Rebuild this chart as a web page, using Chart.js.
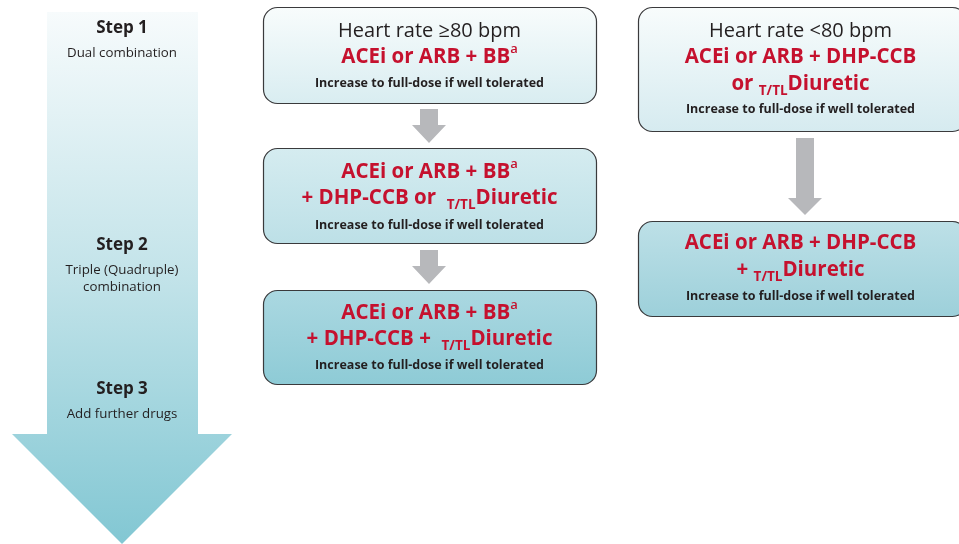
<!DOCTYPE html>
<html>
<head>
<meta charset="utf-8">
<script src="https://cdn.jsdelivr.net/npm/chart.js@4.4.1/dist/chart.umd.min.js"></script>
<style>
  body { margin: 0; background: #fff; }
  #wrap { width: 959px; height: 544px; }
</style>
</head>
<body>
<div id="wrap"><canvas id="flow" width="959" height="544"></canvas></div>
<script>
// step labels down the big arrow
const stepTitles = ['Step 1', 'Step 2', 'Step 3'];
const stepNotes = [['Dual combination'], ['Triple (Quadruple)', 'combination'], ['Add further drugs']];

// box texts: segments per line, sup / sub marks
const note = 'Increase to full-dose if well tolerated';
const leftBoxes = [
  [[{t: 'Heart rate \u226580 bpm', k: 'head'}],
   [{t: 'ACEi or ARB + BB', k: 'red'}, {t: 'a', k: 'sup'}],
   [{t: note, k: 'note'}]],
  [[{t: 'ACEi or ARB + BB', k: 'red'}, {t: 'a', k: 'sup'}],
   [{t: '+ DHP-CCB or  ', k: 'red'}, {t: 'T/TL', k: 'sub'}, {t: 'Diuretic', k: 'red'}],
   [{t: note, k: 'note'}]],
  [[{t: 'ACEi or ARB + BB', k: 'red'}, {t: 'a', k: 'sup'}],
   [{t: '+ DHP-CCB +  ', k: 'red'}, {t: 'T/TL', k: 'sub'}, {t: 'Diuretic', k: 'red'}],
   [{t: note, k: 'note'}]]
];
const rightBoxes = [
  [[{t: 'Heart rate <80 bpm', k: 'head'}],
   [{t: 'ACEi or ARB + DHP-CCB', k: 'red'}],
   [{t: 'or ', k: 'red'}, {t: 'T/TL', k: 'sub'}, {t: 'Diuretic', k: 'red'}],
   [{t: note, k: 'note'}]],
  [[{t: 'ACEi or ARB + DHP-CCB', k: 'red'}],
   [{t: '+ ', k: 'red'}, {t: 'T/TL', k: 'sub'}, {t: 'Diuretic', k: 'red'}],
   [{t: note, k: 'note'}]]
];

// layout (in axis units, y grows downward)
const layout = {
  bigArrow: {x0: 47, x1: 198, top: 12, headY: 434, hx0: 12, hx1: 232, tip: 544, cx: 122},
  stepY: [28, 245, 389],
  leftBoxes: [
    {x0: 263, x1: 596, y0: 7, y1: 103, c0: '#f8fcfc', c1: '#d9edf1', lines: [31, 57, 83]},
    {x0: 263, x1: 596, y0: 148, y1: 243, c0: '#d5ecf0', c1: '#bde0e7', lines: [172, 198, 225]},
    {x0: 263, x1: 596, y0: 290, y1: 384, c0: '#abd8e1', c1: '#8ecbd6', lines: [313, 339, 365]}
  ],
  rightBoxes: [
    {x0: 638, x1: 966, y0: 7, y1: 131, c0: '#f8fcfc', c1: '#d6ebf0', lines: [31, 57, 84, 109]},
    {x0: 638, x1: 966, y0: 221, y1: 316, c0: '#bde0e7', c1: '#9dd0da', lines: [243, 270, 296]}
  ],
  grayArrows: [
    {cx: 429, top: 109, headY: 125, tip: 143, sw: 9, hw: 17},
    {cx: 429, top: 250, headY: 266, tip: 284, sw: 9, hw: 17},
    {cx: 805, top: 138, headY: 198, tip: 215, sw: 9, hw: 17}
  ]
};

const FONT = '"Open Sans", "Noto Sans", sans-serif';
const styles = {
  head: {font: '400 20px ' + FONT, color: '#231f20', dy: 0},
  red: {font: '700 20.5px ' + FONT, color: '#c5112e', dy: 0},
  sup: {font: '600 13px ' + FONT, color: '#c5112e', dy: -8},
  sub: {font: '700 13.5px ' + FONT, color: '#c5112e', dy: 7},
  note: {font: '700 12.5px ' + FONT, color: '#231f20', dy: 0}
};

function drawLine(ctx, segs, cx, y) {
  let w = 0;
  segs.forEach(s => { ctx.font = styles[s.k].font; w += ctx.measureText(s.t).width; });
  let x = cx - w / 2;
  segs.forEach(s => {
    const st = styles[s.k];
    ctx.font = st.font;
    ctx.fillStyle = st.color;
    ctx.fillText(s.t, x, y + st.dy);
    x += ctx.measureText(s.t).width;
  });
}

const flowPlugin = {
  id: 'flow',
  afterDraw(chart) {
    const ctx = chart.ctx;
    const X = v => chart.scales.x.getPixelForValue(v);
    const Y = v => chart.scales.y.getPixelForValue(v);
    ctx.save();
    ctx.textBaseline = 'middle';
    ctx.textAlign = 'left';

    // big step arrow
    const a = layout.bigArrow;
    const g = ctx.createLinearGradient(0, Y(a.top), 0, Y(a.tip));
    g.addColorStop(0, '#f7fbfc');
    g.addColorStop(0.5, '#c2e3e9');
    g.addColorStop(1, '#82c7d3');
    ctx.fillStyle = g;
    ctx.beginPath();
    ctx.moveTo(X(a.x0), Y(a.top));
    ctx.lineTo(X(a.x1), Y(a.top));
    ctx.lineTo(X(a.x1), Y(a.headY));
    ctx.lineTo(X(a.hx1), Y(a.headY));
    ctx.lineTo(X(a.cx), Y(a.tip));
    ctx.lineTo(X(a.hx0), Y(a.headY));
    ctx.lineTo(X(a.x0), Y(a.headY));
    ctx.closePath();
    ctx.fill();

    stepTitles.forEach((t, i) => {
      const y0 = layout.stepY[i];
      ctx.font = '700 17px ' + FONT;
      ctx.fillStyle = '#231f20';
      ctx.textAlign = 'center';
      ctx.fillText(t, X(a.cx), Y(y0));
      ctx.font = '400 13.3px ' + FONT;
      stepNotes[i].forEach((n, j) => ctx.fillText(n, X(a.cx), Y(y0 + 25 + j * 17)));
    });
    ctx.textAlign = 'left';

    // gray connector arrows
    layout.grayArrows.forEach(r => {
      ctx.fillStyle = '#b7b8bb';
      ctx.beginPath();
      ctx.moveTo(X(r.cx - r.sw), Y(r.top));
      ctx.lineTo(X(r.cx + r.sw), Y(r.top));
      ctx.lineTo(X(r.cx + r.sw), Y(r.headY));
      ctx.lineTo(X(r.cx + r.hw), Y(r.headY));
      ctx.lineTo(X(r.cx), Y(r.tip));
      ctx.lineTo(X(r.cx - r.hw), Y(r.headY));
      ctx.lineTo(X(r.cx - r.sw), Y(r.headY));
      ctx.closePath();
      ctx.fill();
    });

    // boxes
    const drawBox = (b, lines) => {
      const x0 = X(b.x0), x1 = X(b.x1), y0 = Y(b.y0), y1 = Y(b.y1);
      const bg = ctx.createLinearGradient(0, y0, 0, y1);
      bg.addColorStop(0, b.c0);
      bg.addColorStop(1, b.c1);
      ctx.beginPath();
      ctx.roundRect(x0 + 0.5, y0 + 0.5, x1 - x0, y1 - y0, 14);
      ctx.fillStyle = bg;
      ctx.fill();
      ctx.lineWidth = 1.2;
      ctx.strokeStyle = '#3a3a3c';
      ctx.stroke();
      const cx = (b.x0 + Math.min(b.x1, 959 + 4)) / 2;
      lines.forEach((segs, i) => drawLine(ctx, segs, X(cx), Y(b.lines[i])));
    };
    layout.leftBoxes.forEach((b, i) => drawBox(b, leftBoxes[i]));
    layout.rightBoxes.forEach((b, i) => drawBox(b, rightBoxes[i]));
    ctx.restore();
  }
};

new Chart(document.getElementById('flow'), {
  type: 'scatter',
  data: {datasets: [{data: [], pointRadius: 0}]},
  options: {
    responsive: false,
    animation: false,
    layout: {padding: 0},
    plugins: {legend: {display: false}, tooltip: {enabled: false}},
    scales: {
      x: {type: 'linear', min: 0, max: 959, display: false},
      y: {type: 'linear', min: 0, max: 544, reverse: true, display: false}
    }
  },
  plugins: [flowPlugin]
});
</script>
</body>
</html>
